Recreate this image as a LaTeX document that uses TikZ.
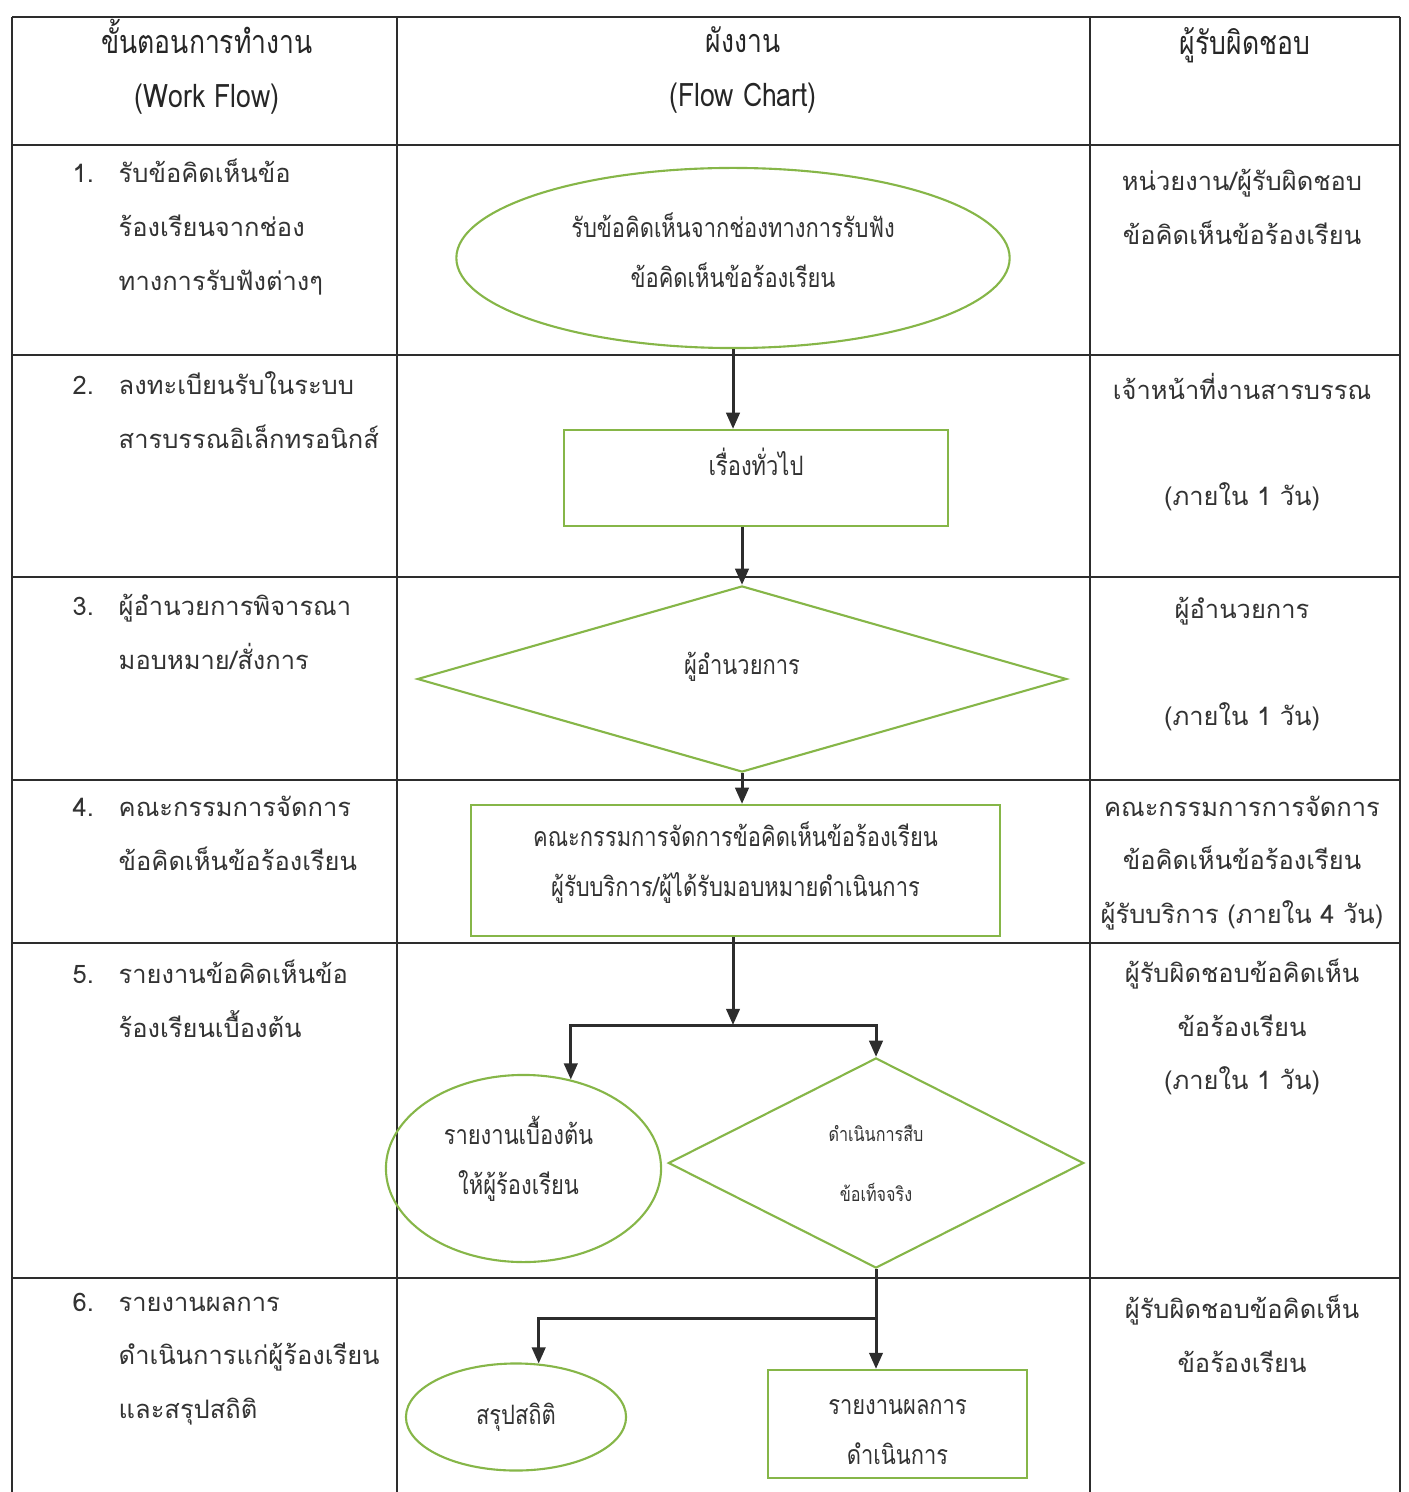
\documentclass[tikz,border=0pt]{standalone}
\usepackage{fontspec}
\newfontfamily\thai[Script=Thai]{Loma}
\newfontfamily\thainarrow[Script=Thai,FakeStretch=0.82]{Loma}
\usetikzlibrary{shapes.geometric}
\usetikzlibrary{arrows.meta}
\usetikzlibrary{calc}

\definecolor{shapegreen}{RGB}{134,182,72}
\definecolor{inkgray}{RGB}{45,45,45}

\newcommand{\cellfont}{\thai\fontsize{7.25}{15.3}\selectfont}
\newcommand{\headfont}{\thainarrow\fontsize{9.2}{15.3}\selectfont}
\newcommand{\nodefont}{\thainarrow\fontsize{7.6}{14.2}\selectfont}
\newcommand{\num}[1]{\makebox[0.46cm][l]{#1}}
\newcommand{\ind}{\hspace*{0.46cm}}

\tikzset{
  rule/.style={draw=inkgray, line width=0.6pt},
  flow/.style={draw=inkgray, line width=0.85pt, -{Triangle[length=4.6pt,width=3.8pt]}},
  greenbox/.style={draw=shapegreen, line width=0.6pt, rectangle, align=center, inner sep=0pt, font=\nodefont, text=black!80},
  greenoval/.style={greenbox, ellipse},
  greendiamond/.style={greenbox, diamond},
  nodetext/.style={font=\nodefont, text=black!80, inner sep=0pt, align=center},
  stepcell/.style={anchor=west, align=left, inner sep=0pt, font=\cellfont, text=black!80},
  ownercell/.style={align=center, inner sep=0pt, font=\cellfont, text=black!80},
  headcell/.style={align=center, inner sep=0pt, font=\headfont, text=black!85},
}

\begin{document}
\begin{tikzpicture}[x=0.01cm,y=-0.01cm]
\useasboundingbox (0,0) rectangle (1408,1492);

% table
\foreach \y in {17,145,355,577,780,943,1278}
  \draw[rule] (12,\y) -- (1400,\y);
\foreach \x in {12,397,1090,1400}
  \draw[rule] (\x,17) -- (\x,1492);

% header
\node[headcell] (hwork) at (207,67) {ขั้นตอนการทำงาน\\(Work Flow)};
\node[headcell] (hchart) at (743,70) {ผังงาน\\(Flow Chart)};
\node[headcell] (howner) at (1245,45) {ผู้รับผิดชอบ};

% work flow column
\node[stepcell] (w1) at (72,227) {\num{1.}รับข้อคิดเห็นข้อ\\\ind ร้องเรียนจากช่อง\\\ind ทางการรับฟังต่างๆ};
\node[stepcell] (w2) at (72,410) {\num{2.}ลงทะเบียนรับในระบบ\\\ind สารบรรณอิเล็กทรอนิกส์};
\node[stepcell] (w3) at (72,632) {\num{3.}ผู้อำนวยการพิจารณา\\\ind มอบหมาย/สั่งการ};
\node[stepcell] (w4) at (72,833) {\num{4.}คณะกรรมการจัดการ\\\ind ข้อคิดเห็นข้อร้องเรียน};
\node[stepcell] (w5) at (72,999) {\num{5.}รายงานข้อคิดเห็นข้อ\\\ind ร้องเรียนเบื้องต้น};
\node[stepcell] (w6) at (72,1359) {\num{6.}รายงานผลการ\\\ind ดำเนินการแก่ผู้ร้องเรียน\\\ind และสรุปสถิติ};

% owner column
\node[ownercell] (o1) at (1242,207) {หน่วยงาน/ผู้รับผิดชอบ\\ข้อคิดเห็นข้อร้องเรียน};
\node[ownercell] (o2) at (1242,442) {เจ้าหน้าที่งานสารบรรณ\\[15pt](ภายใน 1 วัน)};
\node[ownercell] (o3) at (1242,664) {ผู้อำนวยการ\\[15pt](ภายใน 1 วัน)};
\node[ownercell] (o4) at (1242,863) {คณะกรรมการการจัดการ\\ข้อคิดเห็นข้อร้องเรียน\\ผู้รับบริการ (ภายใน 4 วัน)};
\node[ownercell] (o5) at (1242,1027) {ผู้รับผิดชอบข้อคิดเห็น\\ข้อร้องเรียน\\(ภายใน 1 วัน)};
\node[ownercell] (o6) at (1242,1334) {ผู้รับผิดชอบข้อคิดเห็น\\ข้อร้องเรียน};

% flow chart
\node[greenoval, minimum width=5.53cm, minimum height=1.8cm,
  label={[nodetext,yshift=0.08cm]center:รับข้อคิดเห็นจากช่องทางการรับฟัง\\ข้อคิดเห็นข้อร้องเรียน}] (e1) at (733,258) {};
\node[greenbox, minimum width=3.84cm, minimum height=0.96cm,
  label={[nodetext,yshift=0.16cm]center:เรื่องทั่วไป}] (r2) at (756,478) {};
\node[greendiamond, minimum width=6.49cm, minimum height=1.86cm,
  label={[nodetext,yshift=0.12cm]center:ผู้อำนวยการ}] (d3) at (742,679) {};
\node[greenbox, minimum width=5.29cm, minimum height=1.31cm,
  label={[nodetext,yshift=0.08cm]center:คณะกรรมการจัดการข้อคิดเห็นข้อร้องเรียน\\ผู้รับบริการ/ผู้ได้รับมอบหมายดำเนินการ}] (r4) at (735.5,870.5) {};
\node[greenoval, minimum width=2.75cm, minimum height=1.87cm,
  label={[nodetext,xshift=-0.05cm,yshift=0.1cm]center:รายงานเบื้องต้น\\ให้ผู้ร้องเรียน}] (e5) at (523.5,1168.5) {};
\node[greendiamond, minimum width=4.15cm, minimum height=2.1cm, font=\thainarrow\fontsize{5.6}{10}\selectfont] (d5) at (876,1163) {ดำเนินการสืบ\\[0.25cm]ข้อเท็จจริง};
\node[greenoval, minimum width=2.2cm, minimum height=1.07cm] (e6) at (516,1417) {สรุปสถิติ};
\node[greenbox, minimum width=2.59cm, minimum height=1.08cm,
  label={[nodetext,yshift=-0.08cm]center:รายงานผลการ\\ดำเนินการ}] (r6) at (897.5,1424) {};

\coordinate (j5) at (733,1025);
\coordinate (j6) at (d5.south |- 0,1318);

\draw[flow] (e1.south) -- (e1.south |- r2.north);
\draw[flow] (d3.north |- r2.south) -- (d3.north);
\draw[flow] (d3.south) -- (d3.south |- r4.north);
\draw[flow] (j5 |- r4.south) -- (j5);
\draw[flow] (j5) -| (e5.62);
\draw[flow] (j5) -| (d5.north);
\draw[flow] (d5.south) -- (d5.south |- r6.north);
\draw[flow] (j6) -| (e6.67);
\end{tikzpicture}
\end{document}
